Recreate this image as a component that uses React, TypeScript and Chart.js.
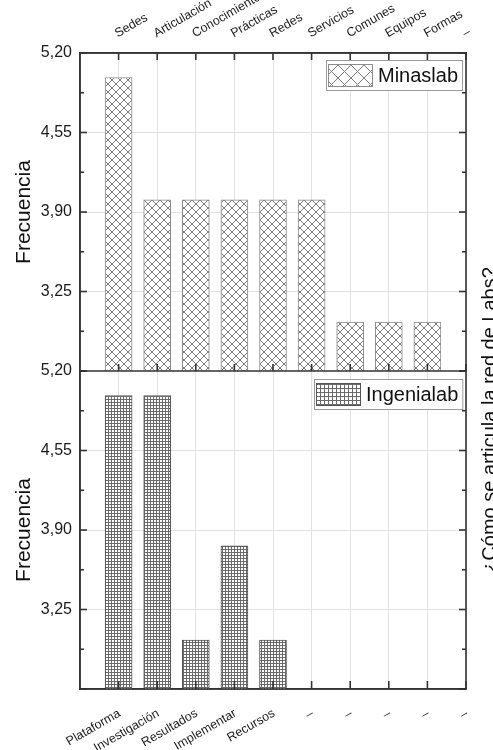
import React, { useEffect, useRef } from 'react';
import { Chart, registerables } from 'chart.js';

Chart.register(...registerables);

// ---- data ----
const xPositions = [1, 2, 3, 4, 5, 6, 7, 8, 9, 10];
const topLabels = ['Sedes', 'Articulación', 'Conocimiento', 'Prácticas', 'Redes', 'Servicios', 'Comunes', 'Equipos', 'Formas', '–'];
const topValues: (number | null)[] = [5, 4, 4, 4, 4, 4, 3, 3, 3, null];
const bottomLabels = ['Plataforma', 'Investigación', 'Resultados', 'Implementar', 'Recursos', '–', '–', '–', '–', '–'];
const bottomValues: (number | null)[] = [5, 5, 3, 3.77, 3, null, null, null, null, null];
const yTicks = [2.6, 3.25, 3.9, 4.55, 5.2];
const topSeriesName = 'Minaslab';
const bottomSeriesName = 'Ingenialab';
const yTitle = 'Frecuencia';
const rightTitle = '¿Cómo se articula la red de Labs?';

const FONT = '"Liberation Sans", Arial, Helvetica, sans-serif';
const W = 493;
const H = 750;

function makeCrossPattern(ctx: CanvasRenderingContext2D, n: number): CanvasPattern {
  const c = document.createElement('canvas');
  c.width = n;
  c.height = n;
  const g = c.getContext('2d')!;
  g.fillStyle = '#ffffff';
  g.fillRect(0, 0, n, n);
  g.strokeStyle = '#7c7c7c';
  g.lineWidth = 1;
  g.beginPath();
  g.moveTo(-1, -1);
  g.lineTo(n + 1, n + 1);
  g.moveTo(n + 1, -1);
  g.lineTo(-1, n + 1);
  g.stroke();
  return ctx.createPattern(c, 'repeat')!;
}

function makeGridPattern(ctx: CanvasRenderingContext2D, n: number): CanvasPattern {
  const c = document.createElement('canvas');
  c.width = n;
  c.height = n;
  const g = c.getContext('2d')!;
  g.fillStyle = '#ffffff';
  g.fillRect(0, 0, n, n);
  g.fillStyle = '#6a6a6a';
  g.fillRect(0, 0, n, 1);
  g.fillRect(0, 0, 1, n);
  return ctx.createPattern(c, 'repeat')!;
}

function fmt(v: number): string {
  return v.toFixed(2).replace('.', ',');
}

function drawLegend(ctx: CanvasRenderingContext2D, right: number, top: number, fill: CanvasPattern, stroke: string, label: string) {
  ctx.save();
  ctx.font = `20px ${FONT}`;
  const tw = ctx.measureText(label).width;
  const pw = 44;
  const ph = 22;
  const w = 2 + pw + 6 + tw + 4;
  const h = 30;
  const x = Math.round(right - w);
  const y = Math.round(top);
  ctx.fillStyle = '#ffffff';
  ctx.fillRect(x, y, w, h);
  ctx.strokeStyle = '#9a9a9a';
  ctx.lineWidth = 1;
  ctx.strokeRect(x + 0.5, y + 0.5, w, h);
  ctx.fillStyle = fill;
  ctx.fillRect(x + 2.5, y + 4.5, pw, ph);
  ctx.strokeStyle = stroke;
  ctx.strokeRect(x + 2.5, y + 4.5, pw, ph);
  ctx.fillStyle = '#111111';
  ctx.textBaseline = 'middle';
  ctx.textAlign = 'left';
  ctx.fillText(label, x + 2 + pw + 6, y + h / 2 + 1);
  ctx.restore();
}

export default function App() {
  const ref = useRef<HTMLCanvasElement | null>(null);

  useEffect(() => {
    const canvas = ref.current;
    if (!canvas) return;
    const ctx = canvas.getContext('2d')!;
    const crossPat = makeCrossPattern(ctx, 8);
    const crossPatLegend = makeCrossPattern(ctx, 13);
    const gridPat = makeGridPattern(ctx, 3);
    const gridPatLegend = makeGridPattern(ctx, 4);

    const gridColor = (c: any) => {
      const v = c.tick ? c.tick.value : 0;
      return Math.abs(v - yTicks[0]) < 1e-6 || Math.abs(v - yTicks[yTicks.length - 1]) < 1e-6 ? 'rgba(0,0,0,0)' : '#e2e2e2';
    };

    const yScale = (hasTitle: boolean) => ({
      type: 'linear' as const,
      position: 'left' as const,
      stack: 'panels',
      stackWeight: 1,
      min: yTicks[0],
      max: yTicks[yTicks.length - 1],
      afterBuildTicks: (s: any) => {
        s.ticks = yTicks.map((v) => ({ value: v }));
      },
      afterFit: (s: any) => {
        s.width = 80;
      },
      ticks: {
        padding: 8,
        color: '#1a1a1a',
        font: { family: FONT, size: 16 },
        callback: (v: any) => (Math.abs(Number(v) - yTicks[0]) < 1e-6 ? '' : fmt(Number(v))),
      },
      grid: { drawTicks: false, color: gridColor, lineWidth: 1 },
      border: { display: true, color: '#333333', width: 1.6 },
      title: {
        display: hasTitle,
        text: yTitle,
        color: '#111111',
        font: { family: FONT, size: 21 },
        padding: { top: 12, bottom: 0 },
      },
    });

    const xScale = (pos: 'top' | 'bottom', labels: string[], showGrid: boolean) => ({
      type: 'linear' as const,
      position: pos,
      min: 0,
      max: 10,
      offset: false,
      afterBuildTicks: (s: any) => {
        s.ticks = xPositions.map((v) => ({ value: v }));
      },
      afterFit: (s: any) => {
        s.height = pos === 'top' ? 53 : 61;
      },
      ticks: {
        autoSkip: false,
        minRotation: 30,
        maxRotation: 30,
        padding: pos === 'top' ? 12 : 17,
        labelOffset: pos === 'top' ? 5 : 1,
        color: '#1a1a1a',
        font: { family: FONT, size: 12.5 },
        callback: (v: any) => {
          const i = xPositions.indexOf(Number(v));
          return i >= 0 ? labels[i] : '';
        },
      },
      grid: { display: showGrid, offset: false, drawTicks: false, color: '#e2e2e2', lineWidth: 1 },
      border: { display: true, color: '#333333', width: 1.6 },
    });

    const decor = {
      id: 'decor',
      afterDatasetsDraw(chart: any) {
        const c = chart.ctx as CanvasRenderingContext2D;
        const yT = chart.scales.yTop;
        const yB = chart.scales.yBot;
        const right = chart.chartArea.right;
        drawLegend(c, right - 4, yT.top + 7, crossPatLegend, '#8c8c8c', topSeriesName);
        drawLegend(c, right - 4, yB.top + 8, gridPatLegend, '#555555', bottomSeriesName);
      },
      afterDraw(chart: any) {
        const c = chart.ctx as CanvasRenderingContext2D;
        const { left, right, top, bottom } = chart.chartArea;
        const yT = chart.scales.yTop;
        const yB = chart.scales.yBot;
        const xs = chart.scales.xTop;
        const mid = yT.bottom;
        c.save();
        c.strokeStyle = '#333333';
        c.lineWidth = 1.6;
        const line = (x1: number, y1: number, x2: number, y2: number) => {
          c.beginPath();
          c.moveTo(x1, y1);
          c.lineTo(x2, y2);
          c.stroke();
        };
        c.strokeRect(left, top, right - left, bottom - top);
        line(left, mid, right, mid);
        for (const ys of [yT, yB]) {
          for (const v of yTicks) {
            const py = ys.getPixelForValue(v);
            line(left, py, left + 7, py);
            line(right - 7, py, right, py);
          }
          for (let i = 0; i < yTicks.length - 1; i++) {
            const py = ys.getPixelForValue((yTicks[i] + yTicks[i + 1]) / 2);
            line(left, py, left + 4, py);
            line(right - 4, py, right, py);
          }
        }
        for (const v of xPositions) {
          const px = xs.getPixelForValue(v);
          line(px, top, px, top + 7);
          line(px, mid, px, mid - 7);
          line(px, bottom, px, bottom - 8);
        }
        // right title
        c.fillStyle = '#111111';
        c.font = `20px ${FONT}`;
        c.translate(496, 420);
        c.rotate(-Math.PI / 2);
        c.textAlign = 'center';
        c.textBaseline = 'alphabetic';
        c.fillText(rightTitle, 0, 0);
        c.restore();
      },
    };

    const chart = new Chart(canvas, {
      type: 'bar',
      data: {
        datasets: [
          {
            label: topSeriesName,
            data: topValues.map((v, i) => ({ x: xPositions[i], y: v })) as any,
            xAxisID: 'xTop',
            yAxisID: 'yTop',
            backgroundColor: crossPat as any,
            borderColor: '#8c8c8c',
            borderWidth: 1,
            barThickness: 27,
            grouped: false,
          },
          {
            label: bottomSeriesName,
            data: bottomValues.map((v, i) => ({ x: xPositions[i], y: v })) as any,
            xAxisID: 'xBot',
            yAxisID: 'yBot',
            backgroundColor: gridPat as any,
            borderColor: '#555555',
            borderWidth: 1,
            barThickness: 27,
            grouped: false,
          },
        ],
      },
      options: {
        responsive: false,
        animation: false,
        devicePixelRatio: 1,
        layout: { padding: { left: 0, right: 27, top: 0, bottom: 0 } },
        plugins: { legend: { display: false }, tooltip: { enabled: false }, title: { display: false } },
        scales: {
          xTop: xScale('top', topLabels, true) as any,
          xBot: xScale('bottom', bottomLabels, false) as any,
          yBot: yScale(true) as any,
          yTop: yScale(true) as any,
        },
      },
      plugins: [decor],
    });
    return () => chart.destroy();
  }, []);

  return (
    <div style={{ position: 'absolute', left: 0, top: 0, width: W, height: H }}>
      <canvas ref={ref} width={W} height={H} style={{ display: 'block', width: W, height: H }} />
    </div>
  );
}
